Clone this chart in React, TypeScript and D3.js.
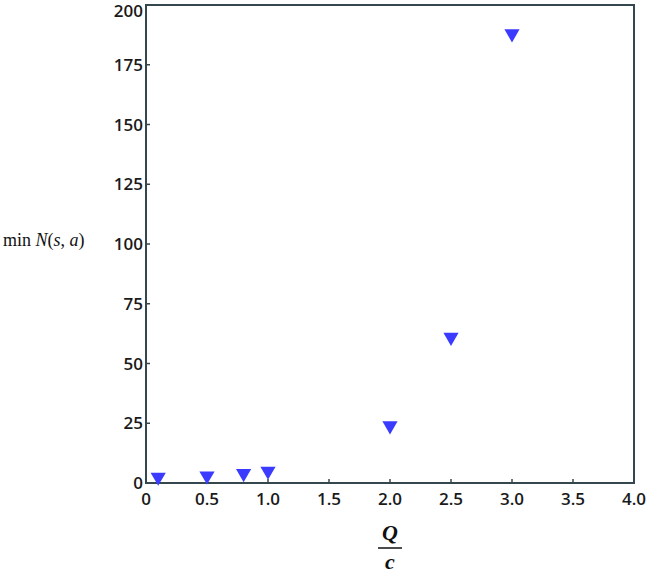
import { useEffect, useRef } from 'react'
import * as d3 from 'd3'

// Q/c values and the minimum N(s, a)
const qOverC = [0.1, 0.5, 0.8, 1.0, 2.0, 2.5, 3.0]
const minN = [2.5, 3, 4, 5, 24, 61, 188]
const xTicks = [0, 0.5, 1.0, 1.5, 2.0, 2.5, 3.0, 3.5, 4.0]
const yTicks = [0, 25, 50, 75, 100, 125, 150, 175, 200]

const W = 650
const H = 576
const axisColor = '#34474f'
const markerColor = '#3b3bff'

export default function App() {
  const svgRef = useRef<SVGSVGElement>(null)

  useEffect(() => {
    if (!svgRef.current) return
    const svg = d3.select(svgRef.current)
    svg.selectAll('*').remove()

    const left = 146
    const right = 634
    const top = 5
    const bottom = 483

    const x = d3.scaleLinear().domain([0, 4]).range([left, right])
    const y = d3.scaleLinear().domain([0, 200]).range([bottom, top])

    // frame
    svg.append('rect').attr('x', left).attr('y', top).attr('width', right - left).attr('height', bottom - top)
      .attr('fill', 'none').attr('stroke', axisColor).attr('stroke-width', 2)

    const labelFont = '"Open Sans", sans-serif'

    // x ticks
    const gx = svg.append('g')
    xTicks.forEach((t) => {
      gx.append('line').attr('x1', x(t)).attr('x2', x(t)).attr('y1', bottom).attr('y2', bottom - 4)
        .attr('stroke', axisColor).attr('stroke-width', 1.5)
      gx.append('text').attr('x', x(t)).attr('y', 505).attr('text-anchor', 'middle')
        .attr('font-family', labelFont).attr('font-weight', 600).attr('font-size', 17).attr('fill', '#1a1a1a')
        .text(t === 0 ? '0' : d3.format('.1f')(t))
    })

    // y ticks
    const gy = svg.append('g')
    yTicks.forEach((t) => {
      gy.append('line').attr('x1', left).attr('x2', left + 4).attr('y1', y(t)).attr('y2', y(t))
        .attr('stroke', axisColor).attr('stroke-width', 1.5)
      gy.append('text').attr('x', left - 3).attr('y', Math.max(17, y(t) + 6)).attr('text-anchor', 'end')
        .attr('font-family', labelFont).attr('font-weight', 600).attr('font-size', 17).attr('fill', '#1a1a1a')
        .text(String(t))
    })

    // markers: downward triangles
    const tri = d3.symbol().type(d3.symbolTriangle).size(100)
    svg.append('g').selectAll('path').data(qOverC).join('path')
      .attr('d', tri)
      .attr('transform', (d, i) => `translate(${x(d)},${y(minN[i])}) rotate(180)`)
      .attr('fill', markerColor)

    // y label
    const yl = svg.append('text').attr('x', 3).attr('y', 246)
      .attr('font-family', '"Liberation Serif", serif').attr('font-size', 18).attr('fill', '#111')
    yl.append('tspan').text('min ')
    yl.append('tspan').attr('font-style', 'italic').text('N')
    yl.append('tspan').text('(')
    yl.append('tspan').attr('font-style', 'italic').text('s')
    yl.append('tspan').text(', ')
    yl.append('tspan').attr('font-style', 'italic').text('a')
    yl.append('tspan').text(')')

    // x label: Q over c
    const cx = (left + right) / 2
    svg.append('text').attr('x', cx).attr('y', 540).attr('text-anchor', 'middle')
      .attr('font-family', '"Liberation Serif", serif').attr('font-style', 'italic').attr('font-weight', 700)
      .attr('font-size', 22).attr('fill', '#111').text('Q')
    svg.append('line').attr('x1', cx - 12).attr('x2', cx + 12).attr('y1', 548).attr('y2', 548)
      .attr('stroke', '#111').attr('stroke-width', 1.5)
    svg.append('text').attr('x', cx).attr('y', 569).attr('text-anchor', 'middle')
      .attr('font-family', '"Liberation Serif", serif').attr('font-style', 'italic').attr('font-weight', 700)
      .attr('font-size', 22).attr('fill', '#111').text('c')
  }, [])

  return (
    <svg ref={svgRef} width={W} height={H} style={{ display: 'block', position: 'absolute', left: 0, top: 0, background: '#fff' }} />
  )
}
